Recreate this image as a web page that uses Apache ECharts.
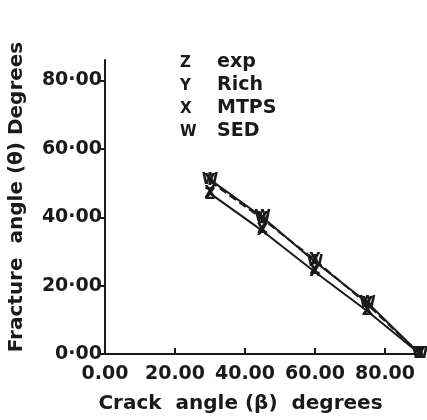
<!DOCTYPE html>
<html>
<head>
<meta charset="utf-8">
<script src="https://cdn.jsdelivr.net/npm/echarts@6/dist/echarts.min.js"></script>
<style>
  html, body { margin: 0; padding: 0; background: #fff; }
  #main { width: 427px; height: 420px; }
</style>
</head>
<body>
<div id="main"></div>
<script>
// crack angle beta (deg)
var crackAngle = [30, 45, 60, 75, 90];
// fracture angle theta (deg)
var expVals  = [46.5, 36.5, 24.5, 12.5, 0];
var richVals = [50.5, 39.5, 27.5, 14.5, 0];
var mtpsVals = [47, 36, 24, 12.5, 0];
var sedVals  = [51, 40, 27, 15, 0];

var legendKeys  = ['Z', 'Y', 'X', 'W'];
var legendNames = ['exp', 'Rich', 'MTPS', 'SED'];

var ink = '#1a1a1a';
var font = 'DejaVu Sans';

function pairs(vals) {
    var out = [];
    for (var i = 0; i < crackAngle.length; i++) {
        out.push([crackAngle[i], vals[i]]);
    }
    return out;
}

function letterSeries(name, key, vals, lineType, showLine) {
    return {
        name: name,
        type: 'line',
        data: pairs(vals),
        symbol: 'circle',
        symbolSize: 1,
        lineStyle: { color: ink, width: showLine ? 2 : 0, type: lineType, opacity: showLine ? 1 : 0 },
        itemStyle: { color: ink },
        label: {
            show: true,
            position: 'inside',
            formatter: key,
            color: ink,
            fontFamily: font,
            fontWeight: 'bold',
            fontSize: 15
        },
        z: 3
    };
}

var myChart = echarts.init(document.getElementById('main'));

var legendText = [];
for (var i = 0; i < legendKeys.length; i++) {
    legendText.push({
        type: 'text', left: 180, top: 56 + i * 23,
        style: { text: legendKeys[i], font: 'bold 15px "DejaVu Sans"', fill: ink }
    });
    legendText.push({
        type: 'text', left: 217, top: 53 + i * 23,
        style: { text: legendNames[i], font: 'bold 19px "DejaVu Sans"', fill: ink }
    });
}

option = {
    animation: false,
    backgroundColor: '#fff',
    grid: { left: 105, right: 7, top: 60, bottom: 66, outerBoundsMode: 'none' },
    xAxis: {
        type: 'value',
        min: 0, max: 90, interval: 20,
        name: 'Crack  angle (β)  degrees',
        nameLocation: 'middle',
        nameGap: 40,
        nameTextStyle: { color: ink, fontFamily: font, fontSize: 20, fontWeight: 'bold', padding: [0, 44, 0, 0] },
        splitLine: { show: false },
        axisLine: { lineStyle: { color: ink, width: 2 } },
        axisTick: { inside: true, length: 6, lineStyle: { color: ink, width: 2 } },
        axisLabel: {
            color: ink, fontFamily: font, fontSize: 19, fontWeight: 'bold', margin: 11,
            showMaxLabel: false,
            formatter: function (v) { return v.toFixed(2); }
        }
    },
    yAxis: {
        type: 'value',
        min: 0, max: 86, interval: 20,
        name: 'Fracture  angle (θ) Degrees',
        nameLocation: 'middle',
        nameGap: 78,
        nameTextStyle: { color: ink, fontFamily: font, fontSize: 20, fontWeight: 'bold', padding: [0, 0, 0, 20] },
        splitLine: { show: false },
        axisLine: { lineStyle: { color: ink, width: 2 } },
        axisTick: { inside: false, length: 6, lineStyle: { color: ink, width: 2 } },
        axisLabel: {
            color: ink, fontFamily: font, fontSize: 19, fontWeight: 'bold', margin: 3,
            showMaxLabel: false,
            formatter: function (v) { return v.toFixed(2).replace('.', '·'); }
        }
    },
    graphic: legendText,
    series: [
        letterSeries('exp', 'Z', expVals, 'solid', false),
        letterSeries('Rich', 'Y', richVals, 'dashed', true),
        letterSeries('MTPS', 'X', mtpsVals, 'solid', true),
        letterSeries('SED', 'W', sedVals, 'solid', true)
    ]
};
myChart.setOption(option);
</script>
</body>
</html>
